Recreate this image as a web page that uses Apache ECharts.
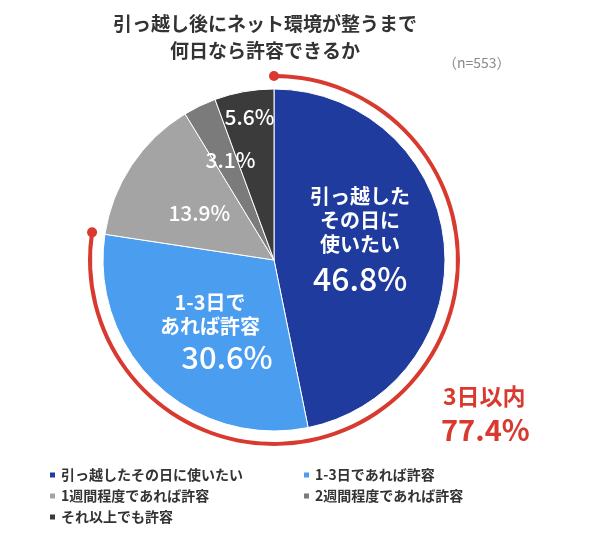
<!DOCTYPE html>
<html>
<head>
<meta charset="utf-8">
<script src="https://cdn.jsdelivr.net/npm/echarts@6/dist/echarts.min.js"></script>
<style>html,body{margin:0;padding:0;background:#fff;}#c{width:600px;height:537px;}</style>
</head>
<body>
<div id="c"></div>
<script>
var categories = ['引っ越したその日に使いたい', '1-3日であれば許容', '1週間程度であれば許容', '2週間程度であれば許容', 'それ以上でも許容'];
var values = [46.8, 30.6, 13.9, 3.1, 5.6];
var colors = ['#1f3b9d', '#4a9def', '#a4a4a4', '#7b7b7b', '#3b3b3b'];
var sliceLabels = ['引っ越した\nその日に\n使いたい', '1-3日で\nあれば許容', '', '', ''];
var highlightLabel = '3日以内';
var highlightValue = 77.4;
var titleLines = ['引っ越し後にネット環境が整うまで', '何日なら許容できるか'];
var sampleNote = '（n=553）';

var FONT = '"Noto Sans CJK JP", "Noto Sans", sans-serif';
var cx = 274, cy = 260, R = 171, arcR = 184;

var chart = echarts.init(document.getElementById('c'));

var pieData = categories.map(function (name, i) {
  var txt = sliceLabels[i] ? sliceLabels[i].split('\n').map(function (l) { return '{t|' + l + '}'; }).join('\n') + '\n{' + (i === 1 ? 'b2' : 'b') + '|' + values[i].toFixed(1) + '%}' : '{s|' + values[i].toFixed(1) + '%}';
  return { name: name, value: values[i], itemStyle: { color: colors[i] }, label: { formatter: txt } };
});

var layoutOffsets = [[-2, -8], [-3, 9], [-1, 2], [-5, -20], [-9, -56]];

var endAngle = (90 - highlightValue / 100 * 360) * Math.PI / 180;
var dotEnd = [cx + arcR * Math.cos(endAngle), cy - arcR * Math.sin(endAngle)];
var dotStart = [cx, cy - arcR];

var legendText = { fontFamily: FONT, fontSize: 14, fontWeight: 'bold', color: '#333', lineHeight: 20 };

chart.setOption({
  animation: false,
  title: {
    text: titleLines.join('\n'),
    left: 260, top: 5, textAlign: 'center',
    textStyle: { fontFamily: FONT, fontSize: 19, fontWeight: 'bold', color: '#333', lineHeight: 27 }
  },
  legend: [
    {
      data: [categories[0], categories[2], categories[4]],
      orient: 'vertical', left: 43, top: 460, itemWidth: 7, itemHeight: 7, itemGap: 1,
      icon: 'rect', textStyle: legendText
    },
    {
      data: [categories[1], categories[3]],
      orient: 'vertical', left: 297, top: 460, itemWidth: 7, itemHeight: 7, itemGap: 1,
      icon: 'rect', textStyle: legendText
    }
  ],
  series: [
    {
      type: 'pie',
      center: [cx, cy], radius: [0, R],
      startAngle: 90, clockwise: true,
      avoidLabelOverlap: false,
      itemStyle: { borderColor: '#fff', borderWidth: 1 },
      label: {
        show: true, position: 'inside', color: '#fff', align: 'center',
        rich: {
          t: { fontFamily: FONT, fontSize: 20, fontWeight: 'bold', color: '#fff', lineHeight: 24, align: 'center' },
          b: { fontFamily: FONT, fontSize: 32, fontWeight: 500, color: '#fff', lineHeight: 46, align: 'center' },
          b2: { fontFamily: FONT, fontSize: 31, fontWeight: 500, color: '#fff', lineHeight: 38, align: 'center', padding: [0, 0, 0, 34] },
          s: { fontFamily: FONT, fontSize: 21, fontWeight: 500, color: '#fff' }
        }
      },
      labelLine: { show: false },
      labelLayout: function (p) {
        var o = layoutOffsets[p.dataIndex];
        return { dx: o[0], dy: o[1] };
      },
      emphasis: { disabled: true },
      data: pieData
    },
    {
      type: 'pie',
      center: [cx, cy], radius: [arcR - 2, arcR + 2],
      startAngle: 90, clockwise: true, silent: true,
      label: { show: false }, labelLine: { show: false },
      itemStyle: { borderWidth: 0 },
      emphasis: { disabled: true },
      data: [
        { name: 'arc', value: highlightValue, itemStyle: { color: '#d83a30' } },
        { name: 'rest', value: 100 - highlightValue, itemStyle: { color: 'rgba(0,0,0,0)' } }
      ]
    }
  ],
  graphic: [
    { type: 'circle', shape: { cx: dotStart[0], cy: dotStart[1], r: 5 }, style: { fill: '#d83a30' } },
    { type: 'circle', shape: { cx: dotEnd[0], cy: dotEnd[1], r: 5 }, style: { fill: '#d83a30' } },
    { type: 'text', left: 443, top: 56, style: { text: sampleNote, font: '14px ' + FONT, fill: '#8a8a8a' } },
    { type: 'text', left: 443, top: 385, style: { text: highlightLabel, font: 'bold 23px ' + FONT, fill: '#d83a30' } },
    { type: 'text', left: 441, top: 415, style: { text: highlightValue.toFixed(1) + '%', font: 'bold 29px ' + FONT, fill: '#d83a30' } }
  ]
});
</script>
</body>
</html>
